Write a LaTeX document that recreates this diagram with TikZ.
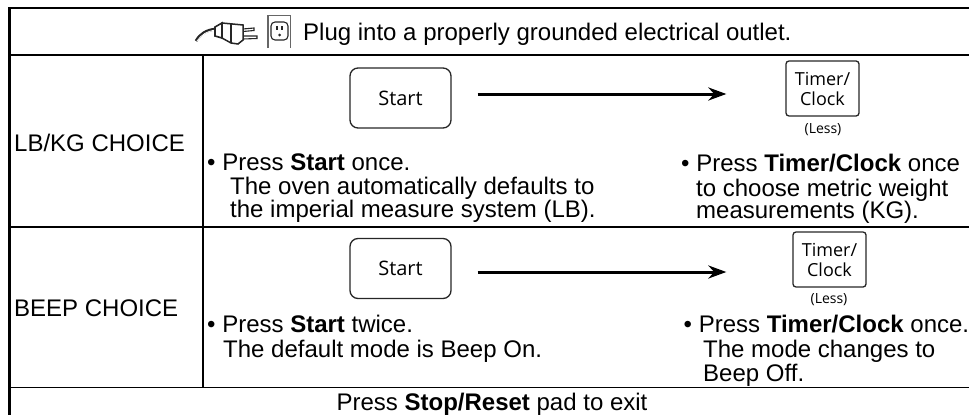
\documentclass[tikz,border=0pt]{standalone}
\usepackage{fontspec}
\setmainfont{Liberation Sans}
\newfontfamily\padfont{Open Sans}
\usetikzlibrary{arrows.meta}
\tikzset{
	padbox/.style={draw=black!85,line width=1.3pt,align=center,inner sep=0pt},
	startpad/.style={padbox,rounded corners=8pt,minimum width=101pt,minimum height=60pt,font=\padfont\fontsize{20}{22}\selectfont},
	timerpad/.style={padbox,rounded corners=3pt,minimum width=73pt,minimum height=55pt,font=\padfont\fontsize{18}{20}\selectfont},
	padnote/.style={font=\padfont\fontsize{14}{16}\selectfont},
	body/.style={font=\fontsize{24}{25}\selectfont,anchor=base west,inner sep=0pt},
	rule/.style={line width=2.4pt},
	plugline/.style={line width=1.1pt,black!85,fill=white},
	flowarrow/.style={line width=3pt,-{Stealth[length=18pt,width=13pt]}},
}
\begin{document}
\begin{tikzpicture}[x=1pt,y=-1pt]
	\useasboundingbox (0,0) rectangle (969,415);
	% table
	\draw[rule,line width=3pt] (9,8) -- (9,415);
	\draw[rule] (8,8) -- (969,8);
	\draw[rule] (8,55) -- (969,55);
	\draw[rule] (8,227) -- (969,227);
	\draw[rule,line width=1.8pt] (8,387.5) -- (969,387.5);
	\draw[rule,line width=2pt] (203,55) -- (203,387.5);
	% plug and outlet
	\draw[line width=2.8pt,black!85] (196,41) .. controls (200,34) and (206,30) .. (216,29);
	\draw[line width=.8pt,white] (197,41) .. controls (201,35) and (207,31) .. (216,30);
	\draw[plugline] (243,29) -- (254,28) -- (254,30.5) -- (243,31.5);
	\draw[plugline] (243,36) -- (257,36) -- (257,38.5) -- (243,39);
	\draw[plugline,line width=1.6pt] (215,27) -- (222,23) -- (222,38) -- (215,36) -- cycle;
	\draw[plugline,line width=1.5pt] (222,23) -- (243,25) -- (243,40) -- (238,44) -- (231,43) -- (222,38) -- cycle;
	\draw[line width=1.6pt,black!85] (231,24) -- (231,43);
	\draw[line width=1.2pt,black!60] (268,48) -- (268,15.5) -- (290.5,15.5) -- (290.5,48);
	\draw[line width=1.1pt,black!85,rounded corners=4pt] (271,22) rectangle (288,40);
	\fill[black!85] (275.5,26) rectangle (277.5,30);
	\fill[black!85] (281,26) rectangle (283,30);
	\fill[black!85] (279.5,35) circle (1.5);
	\path (303,40) node[body] (plugtext) {Plug into a properly grounded electrical outlet.};
	% first row
	\path (14,151) node[body] (lbkg) {LB/KG CHOICE};
	\path (400.5,98) node[startpad] (start1) {Start};
	\path (822.5,88.5) node[timerpad] (timer1) {Timer/\\Clock};
	\path (823,130) node[padnote] (less1) {(Less)};
	\draw[flowarrow] ([shift={(26,-4)}]start1.east) -- ([shift={(-59,5.5)}]timer1.west);
	\path (207,170) node[body] (press1) {\textbullet\ Press \textbf{Start} once.};
	\path (230,194) node[body] (oven1) {The oven automatically defaults to};
	\path (230,217) node[body] (oven2) {the imperial measure system (LB).};
	\path (681,171) node[body] (press2) {\textbullet\ Press \textbf{Timer/Clock} once};
	\path (696,196) node[body] (metric1) {to choose metric weight};
	\path (696,218) node[body] (metric2) {measurements (KG).};
	% second row
	\path (14,316) node[body] (beep) {BEEP CHOICE};
	\path (400.5,268.5) node[startpad] (start2) {Start};
	\path (829.5,259.5) node[timerpad] (timer2) {Timer/\\Clock};
	\path (829,300) node[padnote] (less2) {(Less)};
	\draw[flowarrow] ([shift={(26,3.5)}]start2.east) -- ([shift={(-66,12.5)}]timer2.west);
	\path (207,332) node[body] (press3) {\textbullet\ Press \textbf{Start} twice.};
	\path (223,357) node[body] (mode1) {The default mode is Beep On.};
	\path (683.5,332) node[body] (press4) {\textbullet\ Press \textbf{Timer/Clock} once.};
	\path (703,357) node[body] (mode2) {The mode changes to};
	\path (703,381) node[body] (mode3) {Beep Off.};
	% last row
	\path (492,410) node[body,anchor=base] (exit) {Press \textbf{Stop/Reset} pad to exit};
\end{tikzpicture}
\end{document}
